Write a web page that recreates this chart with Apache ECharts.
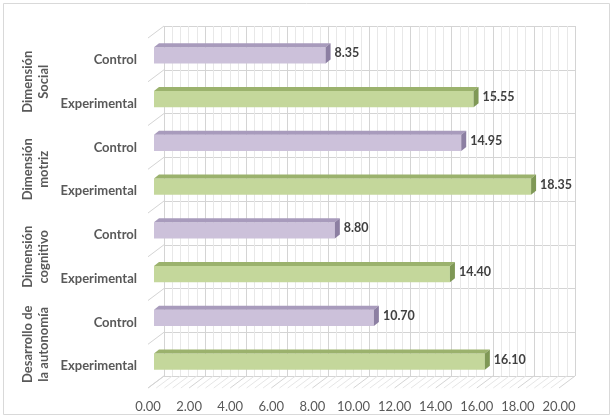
<!DOCTYPE html>
<html>
<head>
<meta charset="utf-8">
<script src="https://cdn.jsdelivr.net/npm/echarts@6/dist/echarts.min.js"></script>
<style>
  html, body { margin: 0; padding: 0; background: #fff; }
  #chart { width: 613px; height: 417px; }
</style>
</head>
<body>
<div id="chart"></div>
<script>
// groups from bottom to top, as the category axis runs
var groupNames = ['Desarrollo de\nla autonomía', 'Dimensión\ncognitivo', 'Dimensión\nmotriz', 'Dimensión\nSocial'];
var subNames = ['Experimental', 'Control'];
var expValues = [16.10, 14.40, 18.35, 15.55];
var ctrlValues = [10.70, 8.80, 14.95, 8.35];

var FONT = 'Lato, "Liberation Sans", sans-serif';
var DX = 16, DY = 12;      // wall depth
var BDX = 5, BDY = 4;      // bar depth

var colors = {
  exp: { front: '#c4d79b', top: '#9bb26d', side: '#7f9856' },
  ctrl: { front: '#ccc1da', top: '#a89bbc', side: '#8c7fa2' }
};

var rowCats = [];
var barData = [];
for (var i = 0; i < groupNames.length; i++) {
  rowCats.push(subNames[0], subNames[1]);
  barData.push([expValues[i], rowCats.length - 2, 'exp']);
  barData.push([ctrlValues[i], rowCats.length - 1, 'ctrl']);
}

var myChart = echarts.init(document.getElementById('chart'));

function renderBar(params, api) {
  var val = api.value(0), idx = api.value(1);
  var kind = barData[params.dataIndex][2];
  var c = colors[kind];
  var p0 = api.coord([0, idx]);
  var p1 = api.coord([val, idx]);
  var h = api.size([0, 1])[1] * 0.37;
  var x0 = p0[0], x1 = p1[0], yt = p0[1] - h / 2, yb = p0[1] + h / 2;
  return {
    type: 'group',
    children: [
      { type: 'rect', shape: { x: x0, y: yt, width: x1 - x0, height: h }, style: { fill: c.front } },
      { type: 'polygon', shape: { points: [[x0, yt], [x1, yt], [x1 + BDX, yt - BDY], [x0 + BDX, yt - BDY]] }, style: { fill: c.top } },
      { type: 'polygon', shape: { points: [[x1, yt], [x1 + BDX, yt - BDY], [x1 + BDX, yb - BDY], [x1, yb]] }, style: { fill: c.side } },
      { type: 'text', x: x1 + BDX + 4, y: p0[1] - 2, style: {
          text: val.toFixed(2), fill: '#404040', font: 'bold 12.5px ' + FONT, verticalAlign: 'middle' } }
    ]
  };
}

function renderWalls(params, api) {
  var cs = params.coordSys;
  var children = [];
  // floor hatch, one slanted line per minor tick
  for (var k = 0; k <= 50; k++) {
    var x = api.coord([k * 0.4, 0])[0];
    var yb = cs.y + cs.height;
    children.push({ type: 'line', shape: { x1: x, y1: yb, x2: x + DX, y2: yb - DY },
      style: { stroke: k % 5 === 0 ? '#d4d4d4' : '#e6e6e6', lineWidth: 1 } });
  }
  // left wall, one slanted line per category boundary
  for (var j = 0; j <= rowCats.length; j++) {
    var y = cs.y + j * cs.height / rowCats.length;
    children.push({ type: 'line', shape: { x1: cs.x, y1: y, x2: cs.x + DX, y2: y - DY },
      style: { stroke: '#d4d4d4', lineWidth: 1 } });
  }
  return { type: 'group', children: children };
}

myChart.setOption({
  animation: false,
  backgroundColor: '#fff',
  graphic: [{
    type: 'rect', shape: { x: 3.5, y: 3.5, width: 606, height: 411 },
    style: { fill: 'none', stroke: '#d9d9d9', lineWidth: 1 }, z: -10
  }],
  grid: [
    { left: 148, right: 54, top: 38, bottom: 29 },   // front plane: labels
    { left: 164, right: 38, top: 26, bottom: 41 },   // back wall
    { left: 154, right: 48, top: 33.5, bottom: 33.5 } // bar plane
  ],
  xAxis: [
    { gridIndex: 0, type: 'value', min: 0, max: 20, interval: 2,
      axisLine: { show: false }, axisTick: { show: false }, splitLine: { show: false },
      axisLabel: { color: '#595959', fontFamily: FONT, fontSize: 13, margin: 12,
        formatter: function (v) { return v.toFixed(2); } } },
    { gridIndex: 1, type: 'value', min: 0, max: 20, interval: 2,
      axisLine: { show: false }, axisTick: { show: false }, axisLabel: { show: false },
      splitLine: { show: true, lineStyle: { color: '#d4d4d4', width: 1 } },
      minorTick: { show: false, splitNumber: 5 },
      minorSplitLine: { show: true, lineStyle: { color: '#e8e8e8', width: 1 } } },
    { gridIndex: 2, type: 'value', min: 0, max: 20, show: false }
  ],
  yAxis: [
    { gridIndex: 0, type: 'category', data: rowCats,
      axisLine: { show: false }, axisTick: { show: false }, splitLine: { show: false },
      axisLabel: { color: '#595959', fontFamily: FONT, fontSize: 13, fontWeight: 'bold', margin: 11, interval: 0 } },
    { gridIndex: 0, type: 'category', data: groupNames, position: 'left',
      axisLine: { show: false }, axisTick: { show: false }, splitLine: { show: false },
      axisLabel: { color: '#595959', fontFamily: FONT, fontSize: 13, fontWeight: 'bold',
        rotate: 90, margin: 96, lineHeight: 16, interval: 0 } },
    { gridIndex: 1, type: 'category', data: rowCats,
      axisLine: { show: false }, axisTick: { show: false }, axisLabel: { show: false },
      splitLine: { show: true, interval: 0, lineStyle: { color: '#d4d4d4', width: 1 } } },
    { gridIndex: 2, type: 'category', data: rowCats, show: false }
  ],
  series: [
    { type: 'custom', xAxisIndex: 0, yAxisIndex: 0, data: [[0, 0]], renderItem: renderWalls, silent: true, z: 1 },
    { type: 'custom', xAxisIndex: 2, yAxisIndex: 3, data: barData, renderItem: renderBar, z: 5,
      encode: { x: 0, y: 1 } }
  ]
});
</script>
</body>
</html>
